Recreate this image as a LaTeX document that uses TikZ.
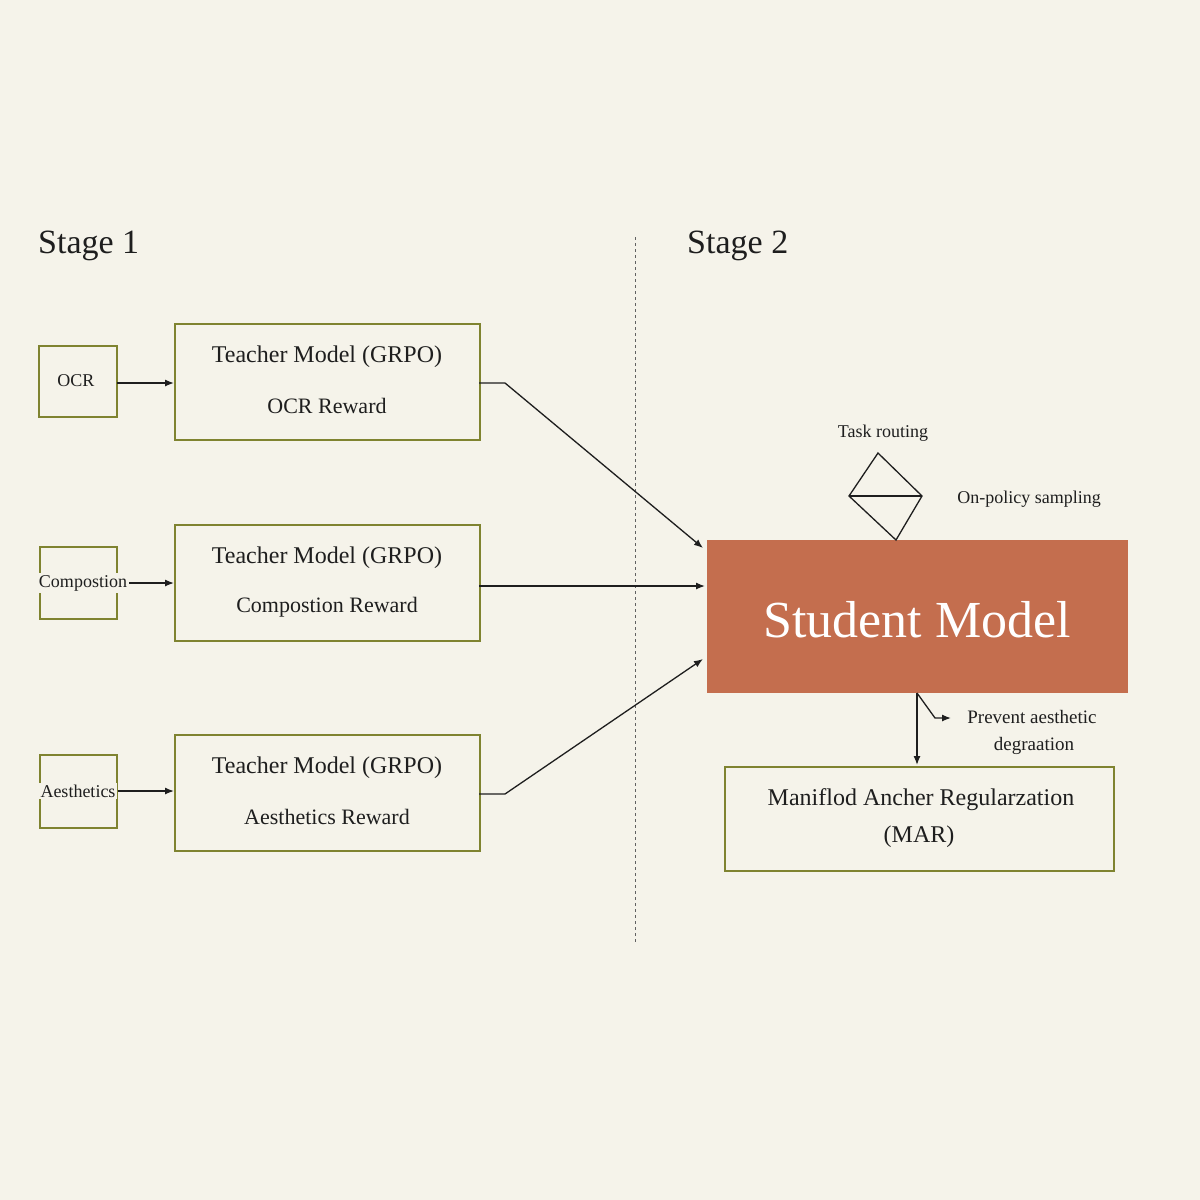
\documentclass[tikz,border=0pt]{standalone}
\usepackage{fontspec}
\setmainfont{Liberation Serif}
\usetikzlibrary{arrows.meta}
\definecolor{bg}{HTML}{F5F3EA}
\definecolor{olive}{HTML}{7F8330}
\definecolor{rust}{HTML}{C46E4E}
\definecolor{ink}{HTML}{1E1E1E}
\begin{document}
\begin{tikzpicture}[x=1pt,y=-1pt,
  box/.style={draw=olive,line width=1.6pt},
  arr/.style={draw=ink,line width=1.3pt,-{Latex[length=9pt,width=7pt]}},
  line/.style={draw=ink,line width=1.3pt},
  t/.style={text=ink,inner sep=0pt,font=\fontsize{24}{28}\selectfont},
  s/.style={text=ink,inner sep=0pt,font=\fontsize{18}{22}\selectfont}]
\fill[bg] (0,0) rectangle (1200,1200);
\useasboundingbox (0,0) rectangle (1200,1200);
\node[t,anchor=west,font=\fontsize{34}{40}\selectfont] (st1) at (38,246) {Stage 1};
\node[t,anchor=west,font=\fontsize{34}{40}\selectfont] (st2) at (687,246) {Stage 2};
\coordinate (dt) at (635,237); \coordinate (db) at (635,942);
\draw[ink!70,dashed,line width=1pt] (dt) -- (db);
% small boxes
\draw[box] (39,346) rectangle (117,417);
\node[s] (ocr) at (76,381) {OCR};
\draw[box] (40,547) rectangle (117,619);
\node[s,fill=bg,inner sep=2pt] (comp) at (83,583) {Compostion};
\draw[box] (40,755) rectangle (117,828);
\node[s,fill=bg,inner sep=2pt] (aes) at (78,791) {Aesthetics};
% teacher boxes
\foreach \n/\y/\r in {t1/323/OCR Reward,t2/524/Compostion Reward,t3/734/Aesthetics Reward}{
  \node[box,minimum width=305pt,minimum height=116pt,anchor=north west] (\n) at (174,\y) {};
  \node[t] at (327,\y+34) {Teacher Model (GRPO)};
  \node[t,font=\fontsize{22}{26}\selectfont] at (327,\y+83) {\r};
}
\coordinate (o1) at (117,383);
\draw[arr] (o1) -- (t1.west |- o1);
\draw[arr] (comp.east) -- (t2.west |- comp.east);
\draw[arr] (aes.east) -- (t3.west |- aes.east);
% student
\node[fill=rust,minimum width=421pt,minimum height=153pt,anchor=north west] (stu) at (707,540) {};
\node[text=white,inner sep=0pt,font=\fontsize{52}{60}\selectfont] at (917,620) {Student Model};
\coordinate (e1) at (703,548); \coordinate (e2) at (705,586); \coordinate (e3) at (703,659);
\draw[arr] (479,383) -- (505,383) -- (e1);
\draw[arr] (479,586) -- (e2);
\draw[arr] (479,794) -- (505,794) -- (e3);
% diamond
\coordinate (dtop) at (878,453); \coordinate (dl) at (849,496);
\coordinate (dr) at (922,496); \coordinate (dbot) at (896,540);
\draw[line,line join=miter] (dtop) -- (dr) -- (dbot) -- (dl) -- cycle;
\draw[line] (dl) -- (dr);
\node[s] (tr) at (883,433) {Task routing};
\node[s] (op) at (1029,499) {On-policy sampling};
% MAR
\node[box,minimum width=389pt,minimum height=104pt,anchor=north west] (mar) at (724,766) {};
\node[t] at (921,800) {Maniflod Ancher Regularzation};
\node[t] at (919,837) {(MAR)};
\coordinate (sb) at (917,693); \coordinate (k) at (935,718); \coordinate (pe) at (951,718);
\draw[arr] (sb) -- (917,765);
\draw[line,-{Latex[length=9pt,width=7pt]}] (sb) -- (k) -- (pe);
\node[s,font=\fontsize{19}{23}\selectfont] (pv) at (1032,717) {Prevent aesthetic};
\node[s,font=\fontsize{19}{23}\selectfont] (dg) at (1034,746) {degraation};
\end{tikzpicture}
\end{document}
